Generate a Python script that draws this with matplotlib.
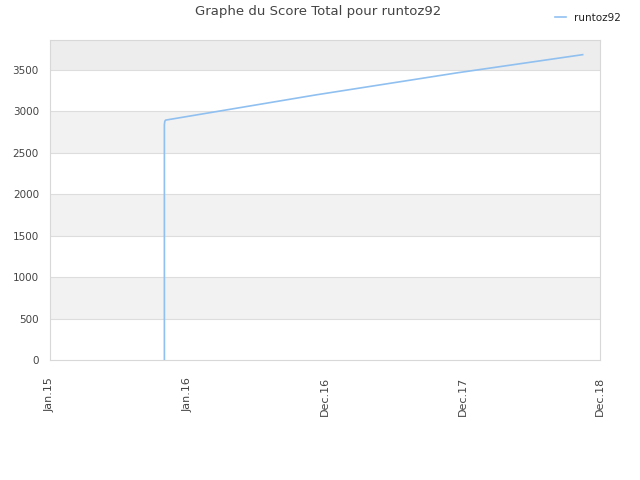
import matplotlib
matplotlib.use('Agg')
import matplotlib.pyplot as plt
import matplotlib.dates as mdates
import numpy as np
import datetime as dt

# values
dates = ['2015-11-03', '2015-11-03', '2015-11-04', '2015-11-06', '2016-12-01', '2017-12-01', '2018-10-24']
scores = [0, 2840, 2880, 2895, 3200, 3465, 3685]
player = 'runtoz92'
x_start = dt.datetime(2015, 1, 10)
x_end = dt.datetime(2018, 12, 8)

x = [dt.datetime.strptime(d, '%Y-%m-%d') for d in dates]

txt = '#444444'
fig = plt.figure(figsize=(6.4, 4.8), dpi=100)
ax = fig.add_axes([50/640, 120/480, 550/640, 320/480])

ymax = 3862
# alternating background bands
ax.axhspan(3500, ymax, color='#ededed', zorder=0, lw=0)
for lo in [500, 1500, 2500]:
    ax.axhspan(lo, lo + 500, color='#f2f2f2', zorder=0, lw=0)
for yv in range(500, 4000, 500):
    ax.axhline(yv, color='#dddddd', lw=0.8, zorder=1)

ax.plot(x, scores, color='#90c0f0', lw=1.2, zorder=3, label=player)

ax.set_ylim(0, ymax)
ax.set_xlim(x_start, x_end)
ax.set_yticks(range(0, 4000, 500))

ticks = np.linspace(mdates.date2num(x_start), mdates.date2num(x_end), 5)
ax.set_xticks(ticks)
ax.xaxis.set_major_formatter(mdates.DateFormatter('%b.%y'))
plt.setp(ax.get_xticklabels(), rotation=90)

ax.tick_params(length=0, labelsize=7.5, colors=txt)
ax.tick_params(axis='y', pad=8)
ax.tick_params(axis='x', pad=12, labelsize=8)
for s in ax.spines.values():
    s.set_color('#d8d8d8')

fig.text(318/640, 1 - 12/480, 'Graphe du Score Total pour ' + player,
         ha='center', va='center', fontsize=9.5, color=txt)
fig.legend(loc='upper right', bbox_to_anchor=(0.985, 0.993), frameon=False,
           fontsize=7.5, handlelength=1.0, labelcolor='#222222')

fig.savefig('out.png', dpi=100)
